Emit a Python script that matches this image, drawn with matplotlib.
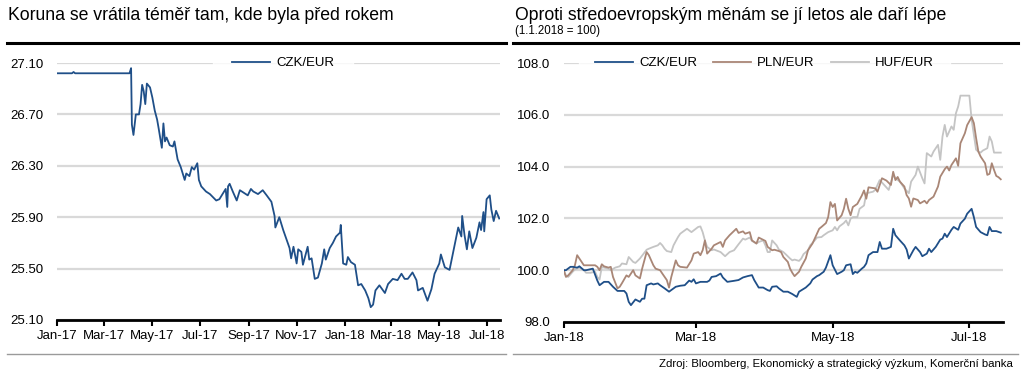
import matplotlib
matplotlib.use("Agg")
import matplotlib.pyplot as plt
import matplotlib.dates as mdates
from matplotlib.lines import Line2D
import pandas as pd

plt.rcParams["font.family"] = ["Liberation Sans", "DejaVu Sans"]

# --- left panel: CZK/EUR level ---
czk_dates = [
    "2017-01-02", "2017-01-20", "2017-01-22", "2017-01-24", "2017-04-03", "2017-04-05",
    "2017-04-06", "2017-04-08", "2017-04-11", "2017-04-15", "2017-04-17", "2017-04-19",
    "2017-04-21", "2017-04-23", "2017-04-25", "2017-04-29", "2017-05-02", "2017-05-05",
    "2017-05-08", "2017-05-10", "2017-05-14", "2017-05-16", "2017-05-18", "2017-05-20",
    "2017-05-24", "2017-05-28", "2017-05-30", "2017-06-03", "2017-06-07", "2017-06-12",
    "2017-06-14", "2017-06-18", "2017-06-21", "2017-06-24", "2017-06-28", "2017-06-30",
    "2017-07-03", "2017-07-09", "2017-07-14", "2017-07-22", "2017-07-26", "2017-08-03",
    "2017-08-05", "2017-08-06", "2017-08-08", "2017-08-12", "2017-08-17", "2017-08-21",
    "2017-08-26", "2017-08-31", "2017-09-04", "2017-09-07", "2017-09-13", "2017-09-19",
    "2017-09-24", "2017-09-30", "2017-10-04", "2017-10-05", "2017-10-10", "2017-10-15",
    "2017-10-19", "2017-10-23", "2017-10-25", "2017-10-28", "2017-11-01", "2017-11-03",
    "2017-11-07", "2017-11-09", "2017-11-15", "2017-11-17", "2017-11-20", "2017-11-24",
    "2017-11-28", "2017-12-03", "2017-12-06", "2017-12-08", "2017-12-13", "2017-12-17",
    "2017-12-21", "2017-12-26", "2017-12-27", "2017-12-30", "2018-01-03", "2018-01-05",
    "2018-01-09", "2018-01-14", "2018-01-18", "2018-01-22", "2018-01-27", "2018-01-31",
    "2018-02-03", "2018-02-06", "2018-02-09", "2018-02-14", "2018-02-21", "2018-02-25",
    "2018-03-03", "2018-03-09", "2018-03-14", "2018-03-18", "2018-03-22", "2018-03-28",
    "2018-04-02", "2018-04-04", "2018-04-10", "2018-04-16", "2018-04-21", "2018-04-25",
    "2018-05-01", "2018-05-03", "2018-05-08", "2018-05-14", "2018-05-16", "2018-05-20",
    "2018-05-25", "2018-05-29", "2018-05-30", "2018-06-02", "2018-06-05", "2018-06-08",
    "2018-06-12", "2018-06-17", "2018-06-21", "2018-06-23", "2018-06-26", "2018-06-27",
    "2018-06-30", "2018-07-04", "2018-07-06", "2018-07-09", "2018-07-12", "2018-07-16",
]
czk_values = [
    27.02, 27.02, 27.03, 27.02, 27.02, 27.06,
    26.62, 26.54, 26.70, 26.70, 26.78, 26.93,
    26.88, 26.78, 26.94, 26.91, 26.83, 26.73,
    26.66, 26.59, 26.44, 26.63, 26.49, 26.52,
    26.46, 26.45, 26.49, 26.35, 26.29, 26.19,
    26.24, 26.22, 26.29, 26.27, 26.32, 26.19,
    26.14, 26.10, 26.08, 26.03, 26.04, 26.12,
    25.98, 26.14, 26.16, 26.10, 26.03, 26.11,
    26.09, 26.07, 26.12, 26.10, 26.08, 26.11,
    26.07, 26.02, 25.91, 25.82, 25.90, 25.80,
    25.73, 25.66, 25.58, 25.67, 25.54, 25.65,
    25.63, 25.53, 25.67, 25.57, 25.58, 25.42,
    25.43, 25.54, 25.65, 25.57, 25.66, 25.70,
    25.75, 25.78, 25.84, 25.54, 25.53, 25.59,
    25.55, 25.53, 25.37, 25.38, 25.33, 25.27,
    25.20, 25.22, 25.33, 25.37, 25.31, 25.38,
    25.42, 25.41, 25.46, 25.42, 25.42, 25.47,
    25.41, 25.33, 25.35, 25.25, 25.34, 25.46,
    25.54, 25.61, 25.51, 25.49, 25.55, 25.67,
    25.82, 25.75, 25.91, 25.76, 25.65, 25.79,
    25.66, 25.74, 25.86, 25.80, 25.94, 25.79,
    26.04, 26.07, 25.96, 25.87, 25.95, 25.89,
]

# --- right panel: indices, 1.1.2018 = 100 ---
idx_czk_dates = [
    "01-01", "01-02", "01-04", "01-05", "01-07", "01-08", "01-10", "01-11", "01-14", "01-16",
    "01-17", "01-19", "01-21", "01-23", "01-25", "01-28", "01-29", "01-30", "01-31", "02-02",
    "02-04", "02-05", "02-06", "02-07", "02-09", "02-10", "02-12", "02-13", "02-15", "02-17",
    "02-20", "02-22", "02-24", "02-26", "02-27", "02-28", "03-01", "03-03", "03-06", "03-07",
    "03-08", "03-10", "03-12", "03-13", "03-15", "03-18", "03-20", "03-22", "03-24", "03-26",
    "03-27", "03-29", "03-31", "04-02", "04-03", "04-04", "04-06", "04-07", "04-09", "04-11",
    "04-13", "04-15", "04-16", "04-19", "04-21", "04-22", "04-24", "04-25", "04-27", "04-28",
    "04-30", "05-01", "05-03", "05-05", "05-06", "05-07", "05-09", "05-10", "05-11", "05-12",
    "05-14", "05-15", "05-16", "05-17", "05-19", "05-21", "05-22", "05-23", "05-25", "05-27",
    "05-28", "05-29", "05-31", "06-02", "06-03", "06-04", "06-06", "06-07", "06-09", "06-10",
    "06-12", "06-13", "06-14", "06-16", "06-18", "06-19", "06-20", "06-21", "06-23", "06-24",
    "06-26", "06-27", "06-29", "06-30", "07-02", "07-03", "07-04", "07-06", "07-08", "07-09",
    "07-10", "07-11", "07-13", "07-15",
]
idx_czk = [
    100.00, 100.00, 100.13, 100.13, 100.10, 100.15, 100.00, 100.00, 100.06, 99.60,
    99.42, 99.55, 99.55, 99.36, 99.20, 99.20, 99.10, 98.78, 98.65, 98.87,
    98.78, 98.90, 98.90, 99.42, 99.49, 99.45, 99.49, 99.42, 99.30, 99.17,
    99.36, 99.40, 99.42, 99.60, 99.55, 99.65, 99.49, 99.55, 99.55, 99.60,
    99.74, 99.77, 99.87, 99.72, 99.55, 99.59, 99.62, 99.72, 99.77, 99.81,
    99.62, 99.33, 99.33, 99.23, 99.20, 99.36, 99.38, 99.30, 99.17, 99.17,
    99.08, 98.97, 99.17, 99.33, 99.49, 99.64, 99.77, 99.81, 99.94, 100.10,
    100.58, 100.19, 99.85, 99.94, 100.00, 100.19, 100.23, 99.85, 99.94, 99.90,
    100.06, 100.13, 100.26, 100.58, 100.70, 100.70, 101.09, 100.83, 100.83, 100.90,
    101.60, 101.35, 101.15, 100.96, 100.80, 100.45, 100.77, 100.90, 100.70, 100.54,
    100.64, 100.83, 100.70, 100.90, 101.18, 101.22, 101.41, 101.28, 101.56, 101.67,
    101.56, 101.80, 101.99, 102.18, 102.37, 102.05, 101.67, 101.47, 101.38, 101.35,
    101.67, 101.51, 101.51, 101.45,
]

idx_pln_dates = [
    "01-01", "01-02", "01-03", "01-05", "01-06", "01-07", "01-09", "01-10", "01-13", "01-15",
    "01-16", "01-17", "01-18", "01-19", "01-21", "01-22", "01-23", "01-25", "01-26", "01-27",
    "01-29", "01-30", "02-01", "02-02", "02-04", "02-05", "02-07", "02-08", "02-10", "02-11",
    "02-13", "02-14", "02-16", "02-17", "02-18", "02-19", "02-20", "02-21", "02-22", "02-25",
    "02-27", "02-28", "03-02", "03-03", "03-04", "03-05", "03-06", "03-08", "03-09", "03-12",
    "03-13", "03-14", "03-16", "03-19", "03-20", "03-22", "03-23", "03-25", "03-26", "03-28",
    "03-29", "04-01", "04-02", "04-04", "04-05", "04-07", "04-08", "04-09", "04-11", "04-12",
    "04-13", "04-14", "04-16", "04-17", "04-19", "04-20", "04-22", "04-23", "04-25", "04-26",
    "04-28", "04-29", "04-30", "05-01", "05-02", "05-03", "05-05", "05-06", "05-07", "05-08",
    "05-09", "05-10", "05-12", "05-14", "05-15", "05-16", "05-17", "05-20", "05-21", "05-23",
    "05-25", "05-27", "05-28", "05-29", "05-30", "05-31", "06-02", "06-03", "06-04", "06-05",
    "06-06", "06-08", "06-09", "06-11", "06-12", "06-13", "06-15", "06-16", "06-17", "06-18",
    "06-20", "06-21", "06-22", "06-23", "06-25", "06-26", "06-27", "06-29", "06-30", "07-02",
    "07-03", "07-04", "07-05", "07-06", "07-08", "07-09", "07-10", "07-11", "07-12", "07-13",
    "07-14", "07-15",
]
idx_pln = [
    100.00, 99.74, 99.80, 100.00, 100.19, 100.58, 100.32, 100.19, 100.19, 100.19,
    100.13, 100.00, 100.23, 100.15, 100.10, 100.13, 99.74, 99.30, 99.36, 99.50,
    99.80, 99.74, 100.00, 99.80, 99.68, 100.06, 100.70, 100.58, 100.19, 100.06,
    100.00, 99.87, 99.62, 99.33, 99.74, 100.06, 100.38, 100.19, 100.13, 100.10,
    100.38, 100.64, 100.70, 100.58, 100.77, 101.15, 100.64, 100.83, 100.96, 101.09,
    100.90, 101.15, 101.35, 101.60, 101.44, 101.50, 101.41, 101.47, 101.15, 101.03,
    101.26, 101.13, 100.90, 100.77, 100.79, 100.74, 100.70, 100.51, 100.32, 100.06,
    99.90, 99.77, 99.94, 100.13, 100.45, 100.77, 101.03, 101.22, 101.60, 101.67,
    101.82, 102.05, 102.63, 102.44, 102.56, 101.92, 102.12, 102.37, 102.76, 102.37,
    102.12, 102.44, 102.56, 102.88, 103.08, 102.76, 103.20, 103.16, 103.03, 103.55,
    103.46, 103.29, 103.80, 103.48, 103.60, 103.42, 103.23, 102.90, 102.77, 102.45,
    102.77, 102.71, 102.58, 102.68, 102.58, 102.71, 102.84, 103.03, 103.23, 103.61,
    103.90, 104.00, 103.85, 104.06, 104.32, 104.03, 104.90, 105.29, 105.60, 105.91,
    105.68, 105.10, 104.58, 104.39, 104.13, 103.68, 103.72, 104.13, 103.87, 103.64,
    103.59, 103.51,
]

idx_huf_dates = [
    "01-01", "01-02", "01-03", "01-05", "01-06", "01-08", "01-10", "01-11", "01-13", "01-15",
    "01-16", "01-17", "01-18", "01-19", "01-21", "01-22", "01-24", "01-26", "01-27", "01-29",
    "01-30", "02-01", "02-02", "02-04", "02-07", "02-08", "02-10", "02-12", "02-13", "02-14",
    "02-15", "02-16", "02-18", "02-19", "02-21", "02-22", "02-24", "02-25", "02-27", "03-01",
    "03-02", "03-03", "03-04", "03-05", "03-06", "03-08", "03-09", "03-12", "03-14", "03-16",
    "03-18", "03-20", "03-22", "03-23", "03-25", "03-26", "03-28", "03-29", "03-31", "04-01",
    "04-02", "04-03", "04-04", "04-06", "04-07", "04-09", "04-10", "04-12", "04-13", "04-14",
    "04-16", "04-17", "04-18", "04-20", "04-21", "04-23", "04-24", "04-26", "04-27", "04-29",
    "05-01", "05-02", "05-03", "05-04", "05-06", "05-07", "05-08", "05-09", "05-10", "05-12",
    "05-13", "05-15", "05-16", "05-19", "05-20", "05-22", "05-24", "05-26", "05-28", "05-29",
    "05-31", "06-02", "06-04", "06-05", "06-07", "06-08", "06-10", "06-11", "06-12", "06-14",
    "06-15", "06-17", "06-18", "06-19", "06-20", "06-21", "06-23", "06-24", "06-25", "06-26",
    "06-27", "06-28", "07-01", "07-02", "07-03", "07-04", "07-05", "07-06", "07-07", "07-09",
    "07-10", "07-11", "07-12", "07-14", "07-15",
]
idx_huf = [
    100.00, 99.80, 99.74, 99.94, 100.03, 100.10, 100.00, 99.90, 99.90, 99.94,
    99.74, 99.64, 100.13, 100.10, 100.06, 100.00, 100.10, 100.15, 100.26, 100.23,
    100.51, 100.32, 100.28, 100.45, 100.79, 100.83, 100.90, 100.96, 101.05, 100.96,
    100.83, 100.74, 100.70, 100.96, 101.28, 101.41, 101.54, 101.60, 101.47, 101.60,
    101.67, 101.69, 101.47, 101.15, 100.90, 100.77, 100.80, 100.70, 100.54, 100.70,
    100.77, 101.00, 101.22, 101.18, 101.26, 101.13, 101.03, 101.09, 101.15, 100.96,
    100.70, 100.70, 101.15, 100.96, 100.80, 100.70, 100.62, 100.45, 100.38, 100.41,
    100.36, 100.45, 100.62, 100.77, 100.96, 101.15, 101.26, 101.28, 101.35, 101.47,
    101.54, 101.67, 101.54, 101.69, 101.82, 101.92, 101.73, 101.99, 102.05, 102.05,
    102.37, 102.50, 102.97, 103.03, 103.10, 103.48, 103.29, 103.10, 103.68, 103.55,
    103.42, 103.16, 102.97, 103.42, 103.68, 104.00, 103.55, 103.35, 104.52, 104.39,
    104.58, 104.84, 104.26, 105.16, 105.61, 105.16, 105.55, 105.42, 106.06, 106.32,
    106.74, 106.74, 106.74, 105.81, 105.23, 104.65, 104.58, 104.54, 104.62, 104.71,
    105.16, 104.97, 104.54, 104.54, 104.54,
]

left_title = "Koruna se vrátila téměř tam, kde byla před rokem"
right_title = "Oproti středoevropským měnám se jí letos ale daří lépe"
right_subtitle = "(1.1.2018 = 100)"
source_note = "Zdroj: Bloomberg, Ekonomický a strategický výzkum, Komerční banka"

BLUE = "#1f4f88"
BROWN = "#a98676"
LGRAY = "#c4c4c4"
GRID = "#d9d9d9"
FS = 9.5


def style_axis(ax, yticks, fmt, xlim):
    ax.set_ylim(yticks[0], yticks[-1])
    ax.set_yticks(yticks)
    ax.set_yticklabels([fmt.format(v) for v in yticks])
    ax.set_xlim(pd.Timestamp(xlim[0]), pd.Timestamp(xlim[1]))
    ax.xaxis.set_major_locator(mdates.MonthLocator(bymonth=[1, 3, 5, 7, 9, 11]))
    ax.xaxis.set_major_formatter(mdates.DateFormatter("%b-%y"))
    for s in ["top", "right", "left"]:
        ax.spines[s].set_visible(False)
    ax.spines["bottom"].set_linewidth(2.0)
    ax.spines["bottom"].set_zorder(5)
    ax.grid(axis="y", color=GRID, linewidth=1.6)
    ax.set_axisbelow(True)
    ax.tick_params(axis="y", length=0, pad=10, labelsize=FS)
    ax.tick_params(axis="x", direction="out", length=4, width=1.5, pad=3, labelsize=FS)


fig = plt.figure(figsize=(10.24, 3.77), dpi=100)

# left panel
ax1 = fig.add_axes([57 / 1024, 1 - 320 / 377, 443 / 1024, 257 / 377])
ax1.plot(pd.to_datetime(czk_dates), czk_values, color=BLUE, linewidth=1.3, label="CZK/EUR")
style_axis(ax1, [25.10, 25.50, 25.90, 26.30, 26.70, 27.10], "{:.2f}",
           ("2017-01-01", "2018-07-17"))
leg1 = ax1.legend(loc="center", bbox_to_anchor=(0.51, 1.0), frameon=True, fontsize=FS,
                  handlelength=2.9, handletextpad=0.45, borderpad=0.3, borderaxespad=0)
leg1.get_frame().set_facecolor("white")
leg1.get_frame().set_edgecolor("white")
leg1.get_frame().set_boxstyle("square", pad=1.1)

# right panel
ax2 = fig.add_axes([563.7 / 1024, 1 - 322 / 377, 439.3 / 1024, 259 / 377])
ax2.plot(pd.to_datetime(["2018-" + d for d in idx_czk_dates]), idx_czk,
         color=BLUE, linewidth=1.3, label="CZK/EUR", zorder=4)
ax2.plot(pd.to_datetime(["2018-" + d for d in idx_pln_dates]), idx_pln,
         color=BROWN, linewidth=1.3, label="PLN/EUR", zorder=3)
ax2.plot(pd.to_datetime(["2018-" + d for d in idx_huf_dates]), idx_huf,
         color=LGRAY, linewidth=1.3, label="HUF/EUR", zorder=2)
style_axis(ax2, [98.0, 100.0, 102.0, 104.0, 106.0, 108.0], "{:.1f}",
           ("2018-01-01", "2018-07-16"))
leg2 = ax2.legend(loc="center", bbox_to_anchor=(0.457, 1.0), ncol=3, frameon=True, fontsize=FS,
                  handlelength=2.9, handletextpad=0.45, columnspacing=1.2, borderpad=0.3,
                  borderaxespad=0)
leg2.get_frame().set_facecolor("white")
leg2.get_frame().set_edgecolor("white")
leg2.get_frame().set_boxstyle("square", pad=0.9)

# titles, rules and source
fig.text(8 / 1024, 1 - 15 / 377, left_title, fontsize=12.7, va="center", ha="left")
fig.text(515 / 1024, 1 - 15 / 377, right_title, fontsize=12.7, va="center", ha="left")
fig.text(515 / 1024, 1 - 31 / 377, right_subtitle, fontsize=8.3, va="center", ha="left")
for x0, x1 in [(7, 506), (513, 1018)]:
    fig.add_artist(Line2D([x0 / 1024, x1 / 1024], [1 - 43 / 377] * 2, color="black", linewidth=2.2))
    fig.add_artist(Line2D([x0 / 1024, x1 / 1024], [1 - 354 / 377] * 2, color="#9a9a9a", linewidth=1.0))
fig.text(1013 / 1024, 1 - 364 / 377, source_note, fontsize=8.2, va="center", ha="right")

fig.savefig("out.png", dpi=100)
